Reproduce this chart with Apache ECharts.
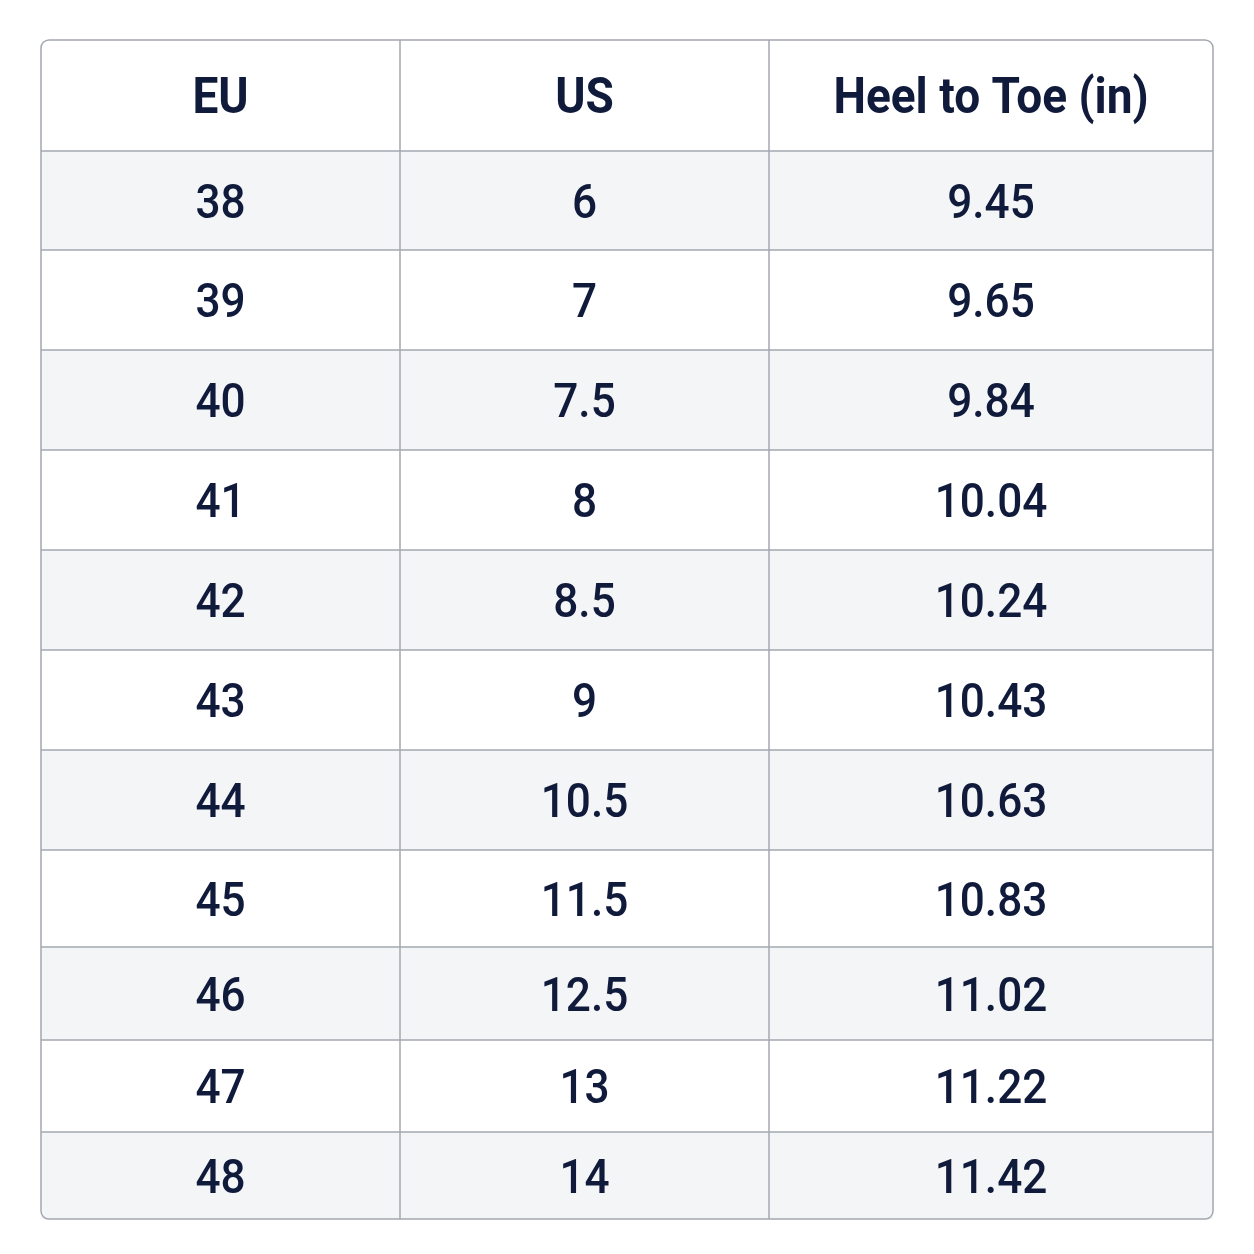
<!DOCTYPE html>
<html><head><meta charset="utf-8">
<script src="https://cdn.jsdelivr.net/npm/echarts@6/dist/echarts.min.js"></script>
<style>html,body{margin:0;padding:0;background:#fff}#c{width:1254px;height:1254px}</style>
</head><body><div id="c"></div>
<script>
const headers = ["EU", "US", "Heel to Toe (in)"];
const eu = ["38","39","40","41","42","43","44","45","46","47","48"];
const us = ["6","7","7.5","8","8.5","9","10.5","11.5","12.5","13","14"];
const heelToe = ["9.45","9.65","9.84","10.04","10.24","10.43","10.63","10.83","11.02","11.22","11.42"];

// layout
const colEdges = [41, 400, 769, 1213];
const rowEdges = [40, 151, 250, 350, 450, 550, 650, 750, 850, 947, 1040, 1132, 1219];
const textColor = "#101a3a", lineColor = "#a3a8b0";
const cols = [eu, us, heelToe];
const els = [];
for (let r = 0; r < eu.length; r++) {
  els.push({type:'rect', shape:{x:colEdges[0], y:rowEdges[r+1], width:colEdges[3]-colEdges[0], height:rowEdges[r+2]-rowEdges[r+1]},
    style:{fill: r % 2 === 0 ? '#f4f5f7' : '#ffffff'}, z:1});
}
for (let i = 1; i < rowEdges.length - 1; i++) {
  els.push({type:'line', shape:{x1:colEdges[0], y1:rowEdges[i], x2:colEdges[3], y2:rowEdges[i]}, style:{stroke:lineColor, lineWidth:1.5}, z:2});
}
for (let i = 1; i < colEdges.length - 1; i++) {
  els.push({type:'line', shape:{x1:colEdges[i], y1:rowEdges[0], x2:colEdges[i], y2:rowEdges[rowEdges.length-1]}, style:{stroke:lineColor, lineWidth:1.5}, z:2});
}
els.push({type:'rect', shape:{x:colEdges[0], y:rowEdges[0], width:colEdges[3]-colEdges[0], height:rowEdges[rowEdges.length-1]-rowEdges[0], r:8},
  style:{fill:null, stroke:lineColor, lineWidth:1.5}, z:3});
headers.forEach((h, c) => {
  els.push({type:'text', x:(colEdges[c]+colEdges[c+1])/2, y:(rowEdges[0]+rowEdges[1])/2 + 5, scaleX:0.92,
    style:{text:h, fill:textColor, font:'bold 50px Roboto', align:'center', verticalAlign:'middle'}, z:4});
});
cols.forEach((col, c) => {
  col.forEach((v, r) => {
    els.push({type:'text', x:(colEdges[c]+colEdges[c+1])/2, y:(rowEdges[r+1]+rowEdges[r+2])/2 + 5, scaleX:0.92,
      style:{text:v, fill:textColor, font:'500 48px Roboto', align:'center', verticalAlign:'middle'}, z:4});
  });
});
const chart = echarts.init(document.getElementById('c'));
chart.setOption({backgroundColor:'#fff', animation:false, graphic:{elements:els}});
</script></body></html>
